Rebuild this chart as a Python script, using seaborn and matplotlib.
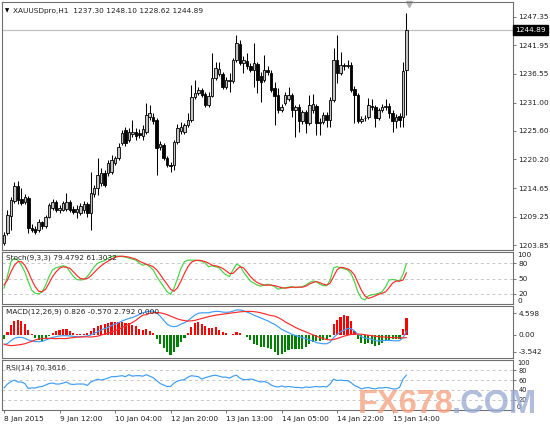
import numpy as np
import pandas as pd
import matplotlib
matplotlib.use("Agg")
import matplotlib.pyplot as plt
import matplotlib.transforms as mtrans
import seaborn as sns

symbol = "XAUUSDpro,H1"

opens = [1204.2, 1206.1, 1209.4, 1212.3, 1215.1, 1212.6, 1212.1, 1212.8, 1207.1, 1206.9,
         1206.7, 1208.2, 1207.5, 1209.2, 1210.9, 1212.1, 1210.5, 1210.5, 1210.7, 1212.1,
         1210.7, 1210.2, 1210.0, 1210.5, 1211.7, 1210.0, 1213.6, 1214.7, 1215.7, 1217.6,
         1217.6, 1217.8, 1219.5, 1220.5, 1223.3, 1225.8, 1223.9, 1225.0, 1225.4, 1225.2,
         1224.7, 1225.4, 1228.3, 1228.3, 1227.7, 1222.6, 1222.9, 1220.5, 1219.1, 1219.1,
         1223.5, 1225.6, 1225.4, 1226.8, 1227.7, 1232.1, 1232.9, 1233.4, 1232.7, 1230.6,
         1232.3, 1235.7, 1236.5, 1236.5, 1234.0, 1235.1, 1235.1, 1239.2, 1242.2, 1238.6,
         1239.0, 1238.0, 1237.2, 1238.4, 1236.1, 1235.3, 1237.2, 1236.7, 1233.8, 1232.5,
         1229.6, 1231.0, 1231.7, 1232.5, 1229.6, 1230.2, 1227.5, 1229.2, 1227.1, 1229.6,
         1230.4, 1227.1, 1227.3, 1228.7, 1227.7, 1231.5, 1239.2, 1236.7, 1238.2, 1238.0,
         1238.2, 1233.6, 1232.5, 1227.5, 1228.1, 1228.3, 1230.4, 1230.2, 1228.1, 1229.6,
         1230.2, 1230.4, 1229.0, 1227.5, 1228.5, 1228.3, 1237.30]
highs = [1206.3, 1210.5, 1213.0, 1215.9, 1216.1, 1214.7, 1213.6, 1213.2, 1207.9, 1207.5,
         1208.8, 1208.4, 1209.6, 1211.9, 1212.6, 1212.4, 1211.5, 1212.3, 1213.8, 1212.4,
         1211.3, 1211.5, 1211.9, 1212.3, 1212.1, 1217.8, 1215.3, 1220.5, 1218.5, 1218.2,
         1220.1, 1221.0, 1220.8, 1223.3, 1225.8, 1226.4, 1226.2, 1227.7, 1226.2, 1226.0,
         1226.8, 1231.0, 1230.6, 1229.0, 1228.1, 1223.7, 1223.3, 1220.8, 1219.7, 1223.9,
         1226.9, 1227.3, 1227.1, 1229.0, 1234.4, 1235.3, 1234.0, 1233.8, 1233.1, 1233.1,
         1240.5, 1238.8, 1238.8, 1236.9, 1235.9, 1236.7, 1239.5, 1243.9, 1243.0, 1239.9,
         1240.5, 1238.6, 1242.4, 1238.8, 1236.9, 1240.1, 1238.0, 1237.2, 1235.0, 1233.8,
         1230.8, 1233.1, 1234.0, 1232.9, 1230.6, 1230.8, 1229.6, 1229.6, 1232.5, 1232.7,
         1230.8, 1228.1, 1229.2, 1229.2, 1232.1, 1241.4, 1243.9, 1240.7, 1238.6, 1239.2,
         1238.8, 1234.2, 1232.9, 1228.5, 1228.7, 1231.9, 1231.7, 1230.6, 1230.0, 1230.8,
         1231.7, 1231.0, 1229.6, 1228.9, 1229.0, 1238.8, 1248.10]
lows = [1203.9, 1205.8, 1206.7, 1211.9, 1211.7, 1211.5, 1211.7, 1206.1, 1206.3, 1206.0,
        1206.3, 1206.9, 1207.1, 1209.0, 1210.5, 1210.2, 1210.0, 1210.3, 1210.3, 1210.2,
        1209.8, 1209.0, 1209.6, 1210.0, 1209.2, 1206.7, 1213.0, 1213.4, 1215.1, 1214.9,
        1217.0, 1217.4, 1219.1, 1220.1, 1222.9, 1222.7, 1223.5, 1224.5, 1223.9, 1224.3,
        1223.9, 1225.0, 1227.7, 1226.9, 1217.2, 1222.0, 1220.1, 1218.7, 1217.8, 1218.2,
        1223.1, 1225.0, 1225.0, 1226.4, 1227.3, 1231.7, 1232.5, 1232.1, 1230.2, 1230.2,
        1232.1, 1235.3, 1236.1, 1233.6, 1233.6, 1233.1, 1234.8, 1238.8, 1238.2, 1236.7,
        1237.4, 1236.9, 1234.0, 1232.9, 1231.1, 1235.0, 1236.3, 1233.1, 1226.8, 1229.0,
        1229.2, 1230.6, 1231.3, 1228.3, 1224.5, 1225.4, 1226.9, 1225.2, 1226.8, 1229.0,
        1224.8, 1224.8, 1226.9, 1226.4, 1226.4, 1231.1, 1234.8, 1236.3, 1237.2, 1237.6,
        1233.1, 1227.1, 1227.1, 1227.1, 1227.5, 1227.9, 1229.6, 1226.4, 1227.7, 1229.2,
        1229.6, 1228.1, 1225.4, 1226.2, 1226.4, 1226.4, 1228.62]
closes = [1205.8, 1209.6, 1212.4, 1215.1, 1212.4, 1211.9, 1213.0, 1207.1, 1206.7, 1206.3,
          1208.2, 1207.5, 1209.2, 1211.5, 1212.1, 1210.5, 1210.9, 1211.9, 1212.1, 1210.5,
          1210.2, 1210.7, 1211.3, 1211.7, 1210.0, 1213.8, 1214.7, 1217.2, 1217.6, 1215.3,
          1219.5, 1220.1, 1220.5, 1222.6, 1225.2, 1223.3, 1225.4, 1225.4, 1224.7, 1224.8,
          1226.0, 1228.7, 1229.0, 1227.5, 1222.4, 1223.1, 1220.5, 1219.1, 1218.9, 1223.5,
          1226.2, 1226.4, 1226.8, 1227.7, 1232.1, 1232.9, 1233.4, 1232.5, 1230.6, 1232.3,
          1235.7, 1237.6, 1237.4, 1234.0, 1235.3, 1235.3, 1239.2, 1242.4, 1238.6, 1239.2,
          1238.0, 1237.2, 1238.6, 1235.3, 1235.0, 1237.2, 1236.9, 1233.4, 1232.3, 1229.6,
          1230.2, 1232.5, 1232.5, 1229.6, 1230.2, 1227.5, 1229.2, 1227.1, 1230.6, 1230.8,
          1227.1, 1227.3, 1228.7, 1227.7, 1231.5, 1239.2, 1236.7, 1238.2, 1238.0, 1238.2,
          1233.4, 1232.5, 1227.5, 1227.9, 1228.0, 1230.6, 1230.2, 1228.1, 1229.6, 1230.2,
          1230.4, 1229.0, 1227.5, 1228.3, 1227.7, 1237.1, 1244.89]

stoch_k = [31, 55, 83, 90, 86, 76, 63, 44, 27, 21,
           20, 24, 37, 54, 67, 71, 73, 75, 73, 63,
           54, 48, 47, 48, 54, 63, 73, 80, 83, 85,
           90, 93, 94, 94, 93, 92, 90, 88, 86, 80,
           76, 78, 73, 67, 54, 44, 34, 24, 19, 31,
           50, 70, 83, 86, 86, 86, 85, 84, 80, 73,
           75, 73, 71, 63, 57, 54, 67, 78, 75, 63,
           54, 45, 41, 37, 35, 37, 39, 37, 34, 29,
           31, 32, 33, 34, 32, 33, 34, 37, 42, 45,
           44, 39, 36, 36, 47, 71, 73, 71, 69, 67,
           60, 44, 24, 11, 8, 16, 18, 19, 21, 24,
           34, 47, 48, 47, 45, 58, 79.4792]
stoch_d = [37, 47, 63, 76, 83, 83, 76, 63, 47, 34,
           25, 24, 29, 41, 54, 63, 70, 73, 72, 70,
           63, 56, 50, 49, 50, 55, 62, 69, 75, 80,
           84, 88, 92, 93, 94, 93, 92, 90, 88, 84,
           81, 78, 76, 73, 67, 58, 48, 39, 29, 25,
           32, 45, 60, 73, 82, 85, 86, 85, 83, 80,
           76, 75, 73, 70, 65, 60, 60, 67, 73, 71,
           63, 54, 47, 42, 39, 37, 37, 37, 36, 34,
           32, 31, 32, 33, 33, 33, 33, 35, 39, 42,
           44, 42, 39, 37, 41, 54, 67, 72, 71, 69,
           65, 57, 42, 27, 16, 11, 13, 16, 19, 21,
           24, 32, 41, 45, 45, 47, 61.3032]

macd_main = [-2.1, -1.8, -1.2, -0.7, -0.5, -0.5, -0.7, -1.05, -1.25, -1.4,
             -1.4, -1.35, -1.05, -0.8, -0.5, -0.35, -0.2, -0.15, -0.15, -0.2,
             -0.3, -0.35, -0.35, -0.3, -0.2, 0.0, 0.35, 0.7, 1.05, 1.35,
             1.6, 2.0, 2.3, 2.6, 2.95, 3.25, 3.5, 3.7, 4.0, 4.35,
             4.7, 4.9, 5.05, 5.05, 4.7, 4.0, 3.15, 2.3, 1.9, 1.75,
             1.9, 2.3, 2.6, 3.0, 3.65, 4.2, 4.6, 4.7, 4.7, 4.7,
             4.9, 5.0, 5.0, 4.85, 4.8, 4.85, 5.05, 5.3, 5.3, 5.15,
             4.85, 4.6, 4.2, 3.9, 3.6, 3.3, 3.0, 2.6, 2.25, 1.75,
             1.2, 0.85, 0.5, 0.15, -0.1, -0.35, -0.55, -0.75, -1.05, -1.25,
             -1.6, -1.75, -1.85, -1.85, -1.5, -0.55, 0.15, 0.65, 1.05, 1.35,
             1.35, 0.85, 0.15, -0.35, -0.65, -0.75, -0.9, -1.2, -1.25, -1.2,
             -1.15, -1.15, -1.2, -1.25, -1.2, -0.55, 0.826]
macd_signal = [-1.9, -2.15, -2.25, -2.2, -2.1, -2.0, -1.85, -1.6, -1.35, -1.05,
               -0.85, -0.75, -0.7, -0.7, -0.75, -0.78, -0.73, -0.75, -0.75, -0.63,
               -0.55, -0.45, -0.43, -0.4, -0.38, -0.43, -0.35, -0.25, 0.0, 0.2,
               0.35, 0.65, 0.9, 1.2, 1.55, 1.95, 2.25, 2.65, 3.1, 3.7,
               4.2, 4.3, 4.6, 4.7, 4.75, 4.7, 4.55, 4.3, 4.0, 3.7,
               3.4, 3.2, 3.05, 2.95, 3.0, 3.1, 3.3, 3.5, 3.7, 3.9,
               4.05, 4.2, 4.3, 4.4, 4.5, 4.6, 4.7, 4.8, 4.9, 4.95,
               5.0, 5.0, 4.95, 4.85, 4.7, 4.5, 4.3, 4.1, 4.0, 3.7,
               3.3, 2.8, 2.4, 2.0, 1.6, 1.25, 0.95, 0.65, 0.35, 0.05,
               -0.25, -0.5, -0.75, -0.95, -1.05, -0.95, -0.75, -0.5, -0.25, -0.05,
               0.1, 0.2, 0.2, 0.15, 0.05, -0.05, -0.15, -0.25, -0.35, -0.4,
               -0.45, -0.5, -0.55, -0.58, -0.6, -0.6, -0.570]
macd_hist = [-0.8, 0.7, 2.1, 3.0, 3.2, 3.0, 2.3, 1.1, 0.2, -0.7,
             -1.1, -1.2, -0.7, -0.2, 0.5, 0.85, 1.05, 1.2, 1.2, 0.85,
             0.5, 0.2, 0.15, 0.2, 0.35, 0.85, 1.4, 1.9, 2.1, 2.3,
             2.5, 2.7, 2.8, 2.8, 2.8, 2.6, 2.5, 2.1, 1.8, 1.3,
             1.05, 1.2, 0.9, 0.5, -0.9, -1.8, -2.8, -3.7, -4.2, -3.5,
             -2.5, -1.4, -0.7, 0.35, 1.6, 2.6, 2.8, 2.3, 1.8, 1.4,
             1.4, 1.6, 1.05, 0.7, 0.35, 0.05, 0.2, 0.7, 0.35, 0.05,
             -0.5, -1.05, -1.8, -2.1, -2.5, -2.6, -2.8, -3.0, -3.7, -4.3,
             -4.1, -3.6, -3.2, -3.0, -3.0, -2.9, -2.9, -2.5, -2.0, -1.5,
             -1.3, -1.3, -1.05, -0.9, -0.35, 2.25, 3.2, 3.8, 4.15, 4.0,
             3.0, 0.85, -0.9, -1.6, -1.8, -1.75, -1.8, -2.3, -2.2, -1.6,
             -1.3, -1.05, -0.9, -0.9, -0.8, 1.2, 3.7]
macd_title_values = [0.826, -0.570, 2.792, 0.000]

rsi = [44, 52, 57, 60, 56, 56, 53, 43, 44, 44,
       46, 47, 50, 53, 54, 52, 52, 54, 56, 52,
       51, 52, 52, 52, 49, 56, 59, 62, 60, 62,
       64, 67, 67, 68, 69, 67, 71, 68, 69, 69,
       68, 71, 68, 65, 59, 53, 50, 47, 47, 54,
       58, 60, 61, 66, 69, 68, 67, 62, 65, 67,
       69, 70, 68, 66, 66, 64, 68, 70, 64, 61,
       61, 62, 61, 58, 56, 57, 55, 50, 47, 46,
       48, 46, 47, 46, 45, 45, 44, 46, 45, 46,
       47, 46, 47, 46, 52, 62, 59, 60, 59, 59,
       55, 49, 46, 42, 44, 45, 43, 42, 44, 44,
       45, 44, 42, 42, 45, 62, 70.3616]

price_ticks = [1247.35, 1241.95, 1236.55, 1231.00, 1225.60, 1220.20, 1214.65, 1209.25, 1203.85]
time_ticks = [0, 16, 32, 48, 64, 80, 96, 112]
time_labels = ["8 Jan 2015", "9 Jan 12:00", "10 Jan 04:00", "12 Jan 20:00",
               "13 Jan 13:00", "14 Jan 05:00", "14 Jan 22:00", "15 Jan 14:00"]
stoch_levels = [80, 50, 20]
rsi_levels = [80, 60, 40, 20]
macd_ticks = [4.598, 0.0, -3.542]

df = pd.DataFrame({"bar": np.arange(len(closes)), "open": opens, "high": highs,
                   "low": lows, "close": closes, "k": stoch_k, "d": stoch_d,
                   "macd": macd_main, "signal": macd_signal, "hist": macd_hist, "rsi": rsi})

sns.set_theme(style="white")
plt.rcParams["font.family"] = ["DejaVu Sans"]

W, H = 550, 425
fig = plt.figure(figsize=(5.5, 4.25), dpi=100)
fig.patch.set_facecolor("white")


def px_axes(x0, y0, x1, y1):
    return fig.add_axes([x0 / W, 1 - y1 / H, (x1 - x0) / W, (y1 - y0) / H])


ax_p = px_axes(2, 2, 513, 250)
ax_s = px_axes(2, 252, 513, 304)
ax_m = px_axes(2, 306, 513, 358)
ax_r = px_axes(2, 360, 513, 410)
axes = [ax_p, ax_s, ax_m, ax_r]

FS = 5.3
TXT = "#202020"
for ax in axes:
    ax.set_facecolor("white")
    ax.set_xlim(-0.58, 146.7)
    for sp in ax.spines.values():
        sp.set_color("#707070")
        sp.set_linewidth(0.8)
    ax.yaxis.tick_right()
    ax.tick_params(axis="y", direction="out", length=2.5, width=0.6, pad=1.5,
                   labelsize=FS, colors="#606060", labelcolor=TXT, right=True, left=False)
    ax.tick_params(axis="x", bottom=False, labelbottom=False)
    ax.grid(False)

# ---- price panel (candles)
ax_p.set_ylim(1202.9, 1250.2)
bull = df["close"] >= df["open"]
ax_p.vlines(df["bar"], df["low"], df["high"], color="black", lw=0.75, zorder=2)
body_lo = np.minimum(df["open"], df["close"])
body_h = np.maximum(np.abs(df["close"] - df["open"]), 0.12)
ax_p.bar(df["bar"][bull], body_h[bull], bottom=body_lo[bull], width=0.72,
         color="#c4c4c4", edgecolor="black", linewidth=0.6, zorder=3)
ax_p.bar(df["bar"][~bull], body_h[~bull], bottom=body_lo[~bull], width=0.72,
         color="black", edgecolor="black", linewidth=0.6, zorder=3)
ax_p.axhline(closes[-1], color="#c0c0c0", lw=0.9, zorder=1)
ax_p.set_yticks(price_ticks)
ax_p.set_yticklabels([f"{v:.2f}" for v in price_ticks])
tr = mtrans.blended_transform_factory(ax_p.transAxes, ax_p.transData)
ax_p.text(1.004, closes[-1], f"{closes[-1]:.2f}", transform=tr, ha="left", va="center",
          fontsize=FS, color="white",
          bbox=dict(boxstyle="square,pad=0.3", fc="black", ec="black"), clip_on=False)
ax_p.plot(len(closes) - 0.3, 1249.8, marker="v", color="#b0b0b0", ms=4.5, clip_on=False)
ax_p.text(0.006, 0.965, "\u25bc", transform=ax_p.transAxes, fontsize=4.0, color="black",
          ha="left", va="center")
ax_p.text(0.022, 0.965,
          f"{symbol}  {opens[-1]:.2f} {highs[-1]:.2f} {lows[-1]:.2f} {closes[-1]:.2f}",
          transform=ax_p.transAxes, fontsize=FS, color=TXT, ha="left", va="center")

# ---- stochastic
ax_s.set_ylim(0, 102)
for lv in stoch_levels:
    ax_s.axhline(lv, color="#c8c8c8", lw=0.7, ls=(0, (3, 3)))
sns.lineplot(data=df, x="bar", y="k", ax=ax_s, color="#44d444", lw=0.85)
sns.lineplot(data=df, x="bar", y="d", ax=ax_s, color="#ff2a2a", lw=0.85)
ax_s.set_yticks(stoch_levels)
ax_s.set_yticklabels([str(v) for v in stoch_levels])
trs = mtrans.blended_transform_factory(ax_s.transAxes, ax_s.transData)
ax_s.text(1.008, 102, "100", transform=trs, ha="left", va="top", fontsize=FS, color=TXT)
ax_s.text(1.008, 0, "0", transform=trs, ha="left", va="bottom", fontsize=FS, color=TXT)
ax_s.text(0.008, 0.88, f"Stoch(9,3,3) {stoch_k[-1]:.4f} {stoch_d[-1]:.4f}",
          transform=ax_s.transAxes, fontsize=FS, color=TXT, ha="left", va="center")

# ---- MACD
ax_m.set_ylim(-4.87, 6.14)
pos = df["hist"] >= 0
ax_m.bar(df["bar"][pos], df["hist"][pos], width=0.62, color="#ff0000", linewidth=0)
ax_m.bar(df["bar"][~pos], df["hist"][~pos], width=0.62, color="#008000", linewidth=0)
sns.lineplot(data=df, x="bar", y="macd", ax=ax_m, color="#3d9df5", lw=0.85)
sns.lineplot(data=df, x="bar", y="signal", ax=ax_m, color="#ff2a2a", lw=0.85)
ax_m.set_yticks(macd_ticks)
ax_m.set_yticklabels(["4.598", "0.00", "-3.542"])
mv = macd_title_values
ax_m.text(0.008, 0.88, f"MACD(12,26,9) {mv[0]:.3f} {mv[1]:.3f} {mv[2]:.3f} {mv[3]:.3f}",
          transform=ax_m.transAxes, fontsize=FS, color=TXT, ha="left", va="center")

# ---- RSI
ax_r.set_ylim(-1, 101)
for lv in rsi_levels:
    ax_r.axhline(lv, color="#c8c8c8", lw=0.7, ls=(0, (3, 3)))
sns.lineplot(data=df, x="bar", y="rsi", ax=ax_r, color="#3d9df5", lw=0.85)
ax_r.set_yticks(rsi_levels)
ax_r.set_yticklabels([str(v) for v in rsi_levels])
ax_r.tick_params(axis="y", labelsize=4.8)
trr = mtrans.blended_transform_factory(ax_r.transAxes, ax_r.transData)
ax_r.text(1.008, 101, "100", transform=trr, ha="left", va="top", fontsize=4.8, color=TXT)
ax_r.text(1.008, -1, "0", transform=trr, ha="left", va="bottom", fontsize=4.8, color=TXT)
ax_r.text(0.008, 0.84, f"RSI(14) {rsi[-1]:.4f}", transform=ax_r.transAxes,
          fontsize=FS, color=TXT, ha="left", va="center")
ax_r.set_xticks(time_ticks)
ax_r.set_xticklabels(time_labels, ha="left")
ax_r.tick_params(axis="x", bottom=True, labelbottom=True, direction="out", length=2.5,
                 width=0.6, pad=1.5, labelsize=FS, colors="#606060", labelcolor=TXT)

for ax in axes:
    ax.set_xlabel("")
    ax.set_ylabel("")
    if ax.get_legend() is not None:
        ax.get_legend().remove()

# watermark
fig.text(358 / W, 1 - 413 / H, "FX678", fontsize=23.5, family="Liberation Sans",
         fontweight="bold", color="#f7a281", alpha=0.78, ha="left", va="baseline")
fig.text(537 / W, 1 - 413 / H, ".COM", fontsize=23.5, family="Liberation Sans",
         fontweight="bold", color="#9aabd2", alpha=0.78, ha="right", va="baseline")

fig.savefig("out.png", dpi=100, facecolor="white")
